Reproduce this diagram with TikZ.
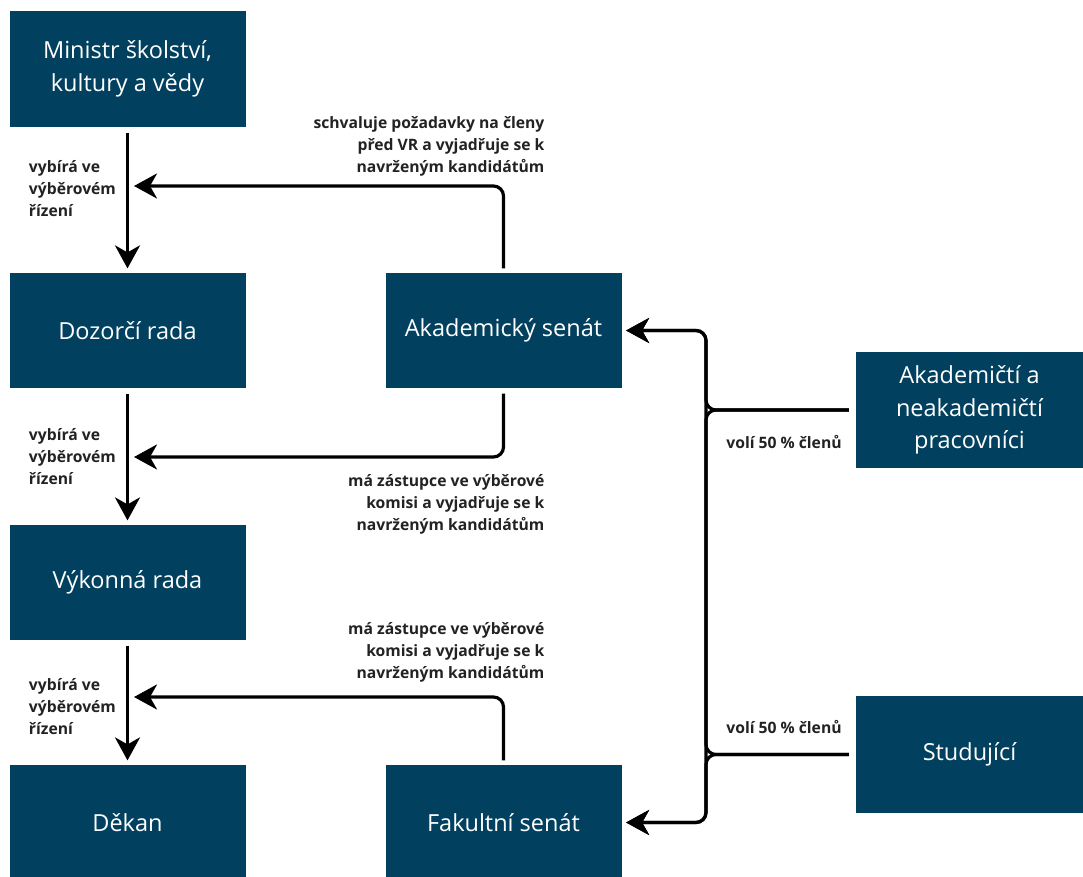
\documentclass[tikz,border=0pt]{standalone}
\usepackage{fontspec}
\setmainfont{Open Sans}
\usepackage{xcolor}
\usetikzlibrary{arrows.meta, positioning, calc}

\definecolor{boxblue}{HTML}{01415F}
\definecolor{lbltext}{HTML}{222222}

\begin{document}
\begin{tikzpicture}[
        x=1pt, y=-1pt,
        line width=3.2pt,
        box/.style={
            fill=boxblue,
            text=white,
            minimum width=236pt,
            minimum height=116pt,
            align=center,
            inner sep=4pt,
            font=\fontsize{23.5}{32.5}\selectfont
        },
        lbl/.style={
            text=lbltext,
            inner sep=2pt,
            font=\bfseries\fontsize{15.7}{22}\selectfont
        },
        arr/.style={
            -{Stealth[length=23pt, width=25pt, inset=7pt]},
            rounded corners=10pt,
            shorten >=3pt
        }
    ]
        \useasboundingbox (0,0) rectangle (1083,877);

        % left column
        \node[box] (ministr) at (127.5,69) {Ministr školství,\\kultury a vědy};
        \node[box, minimum height=115pt] (dozor) at (127.5,330.5) {Dozorčí rada};
        \node[box, minimum height=115pt] (vykon) at (127.5,582.5) {Výkonná rada};
        \node[box, minimum height=115pt] (dekan) at (127.5,822.5) {Děkan};

        % senates
        \node[box, minimum height=115pt] (senat) at (503.5,330.5) {Akademický senát};
        \node[box, minimum height=115pt] (fakult) at (503.5,822.5) {Fakultní senát};

        % voters
        \node[box, minimum width=228pt] (akad) at (969.5,410) {Akademičtí a\\neakademičtí\\pracovníci};
        \node[box, minimum width=228pt, minimum height=117pt] (stud) at (969.5,754.5) {Studující};

        \coordinate (jA) at (131,186);
        \coordinate (jB) at (131,457);
        \coordinate (jC) at (131,697);
        \coordinate (bus) at (706,0);

        \draw[arr, shorten <=4pt] (ministr) -- node[lbl, left=8pt, align=left, pos=0.42] (lblA) {vybírá ve\\výběrovém\\řízení} (dozor);
        \draw[arr, shorten <=4pt] (dozor) -- node[lbl, left=8pt, align=left] (lblB) {vybírá ve\\výběrovém\\řízení} (vykon);
        \draw[arr, shorten <=4pt] (vykon) -- node[lbl, left=8pt, align=left, pos=0.53] (lblC) {vybírá ve\\výběrovém\\řízení} (dekan);

        \draw[arr, shorten <=3pt] (senat.north) |- (jA);
        \draw[arr, shorten <=4pt] (senat.south) |- (jB);
        \draw[arr, shorten <=3pt] (fakult.north) |- (jC);

        \node[lbl, anchor=east, align=right] (txtA) at (548,146) {schvaluje požadavky na členy\\před VR a vyjadřuje se k\\navrženým kandidátům};
        \node[lbl, anchor=east, align=right] (txtB) at (548,504) {má zástupce ve výběrové\\komisi a vyjadřuje se k\\navrženým kandidátům};
        \node[lbl, anchor=east, align=right] (txtC) at (548,652) {má zástupce ve výběrové\\komisi a vyjadřuje se k\\navrženým kandidátům};

        % 50 % each
        \draw[arr, shorten <=5pt] (akad.west) -- (akad.west -| bus) |- (senat.east);
        \draw[arr, shorten <=5pt] (akad.west) -- (akad.west -| bus) |- (fakult.east);
        \draw[arr, shorten <=5pt] (stud.west) -- (stud.west -| bus) |- (senat.east);
        \draw[arr, shorten <=5pt] (stud.west) -- (stud.west -| bus) |- (fakult.east);

        \node[lbl] (volA) at (784,442) {volí 50 \% členů};
        \node[lbl] (volB) at (784,727) {volí 50 \% členů};

    \end{tikzpicture}
\end{document}
